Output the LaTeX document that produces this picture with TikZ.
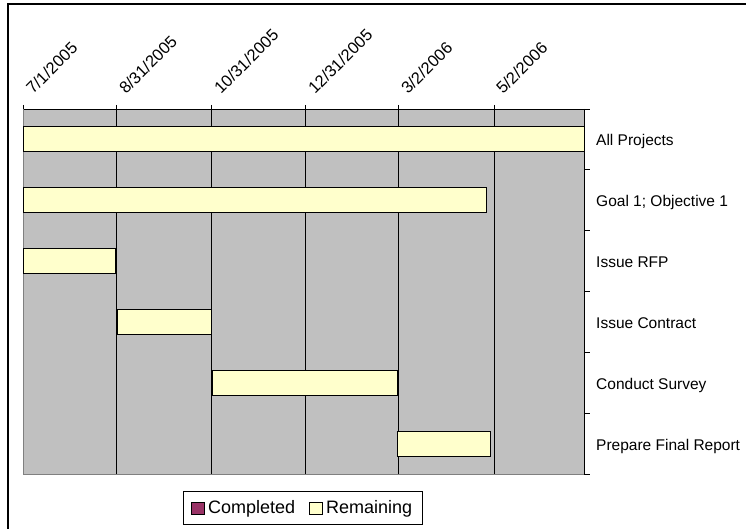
\documentclass[tikz,border=0pt]{standalone}
\usepackage{fontspec}
\setmainfont{Liberation Sans}
\definecolor{plotgray}{HTML}{C0C0C0}
\definecolor{barfill}{HTML}{FFFFCC}
\definecolor{donefill}{HTML}{993366}
\definecolor{edgegray}{HTML}{808080}
\begin{document}
\begin{tikzpicture}[x=1pt,y=-1pt,
  gridline/.style={draw=black,line width=0.9pt},
  edgeline/.style={draw=edgegray,line width=1pt},
  barbox/.style={draw=black,fill=barfill,line width=1pt},
  tasklab/.style={anchor=base west,inner sep=0pt,font=\fontsize{15.5}{18}\selectfont},
  datelab/.style={anchor=base west,inner sep=0pt,rotate=45,font=\fontsize{16.5}{18}\selectfont},
  leglab/.style={anchor=base west,inner sep=0pt,font=\fontsize{18}{21}\selectfont}]
\useasboundingbox (0,0) rectangle (746,529);
\clip (0,0) rectangle (746,529);
\fill[white] (0,0) rectangle (746,529);
\draw[line width=1.1pt] (8,540) -- (8,4) -- (760,4);
% plot area
\fill[plotgray] (23,109) rectangle (584,474);
\foreach \x in {116,211,305,398,494} \draw[gridline] (\x,105) -- (\x,474);
\draw[gridline] (23,105) -- (23,109);
\draw[gridline] (23,109) -- (590,109);
\draw[edgeline] (23,109) -- (23,474) -- (584,474);
\draw[gridline] (584,109) -- (584,474);
\foreach \i in {0,...,6} \draw[gridline] (584,{109+\i*60.833}) -- (590,{109+\i*60.833});
% bars
\foreach \a/\b/\i in {23/584/0, 23/486/1, 23/115/2, 117/211/3, 212/397/4, 397/490/5}
  \draw[barbox] (\a,{127+\i*60.833}) rectangle (\b,{152+\i*60.833});
% task labels
\node[tasklab] (t0) at (596,{146+0*60.833}) {All Projects};
\node[tasklab] (t1) at (596,{146+1*60.833}) {Goal 1; Objective 1};
\node[tasklab] (t2) at (596,{146+2*60.833}) {Issue RFP};
\node[tasklab] (t3) at (596,{146+3*60.833}) {Issue Contract};
\node[tasklab] (t4) at (596,{146+4*60.833}) {Conduct Survey};
\node[tasklab] (t5) at (596,{146+5*60.833}) {Prepare Final Report};
% date labels
\node[datelab] (d0) at (33,95) {7/1/2005};
\node[datelab] (d1) at (126,95) {8/31/2005};
\node[datelab] (d2) at (221,95) {10/31/2005};
\node[datelab] (d3) at (315,95) {12/31/2005};
\node[datelab] (d4) at (408,95) {3/2/2006};
\node[datelab] (d5) at (503,95) {5/2/2006};
% legend
\draw[line width=0.8pt] (183,491) rectangle (422,524);
\draw[draw=black,fill=donefill,line width=0.8pt] (191,502) rectangle (204,514);
\node[leglab] (lc) at (208,513) {Completed};
\draw[draw=black,fill=barfill,line width=0.8pt] (309,502) rectangle (322,514);
\node[leglab] (lr) at (326,513) {Remaining};
\end{tikzpicture}
\end{document}
